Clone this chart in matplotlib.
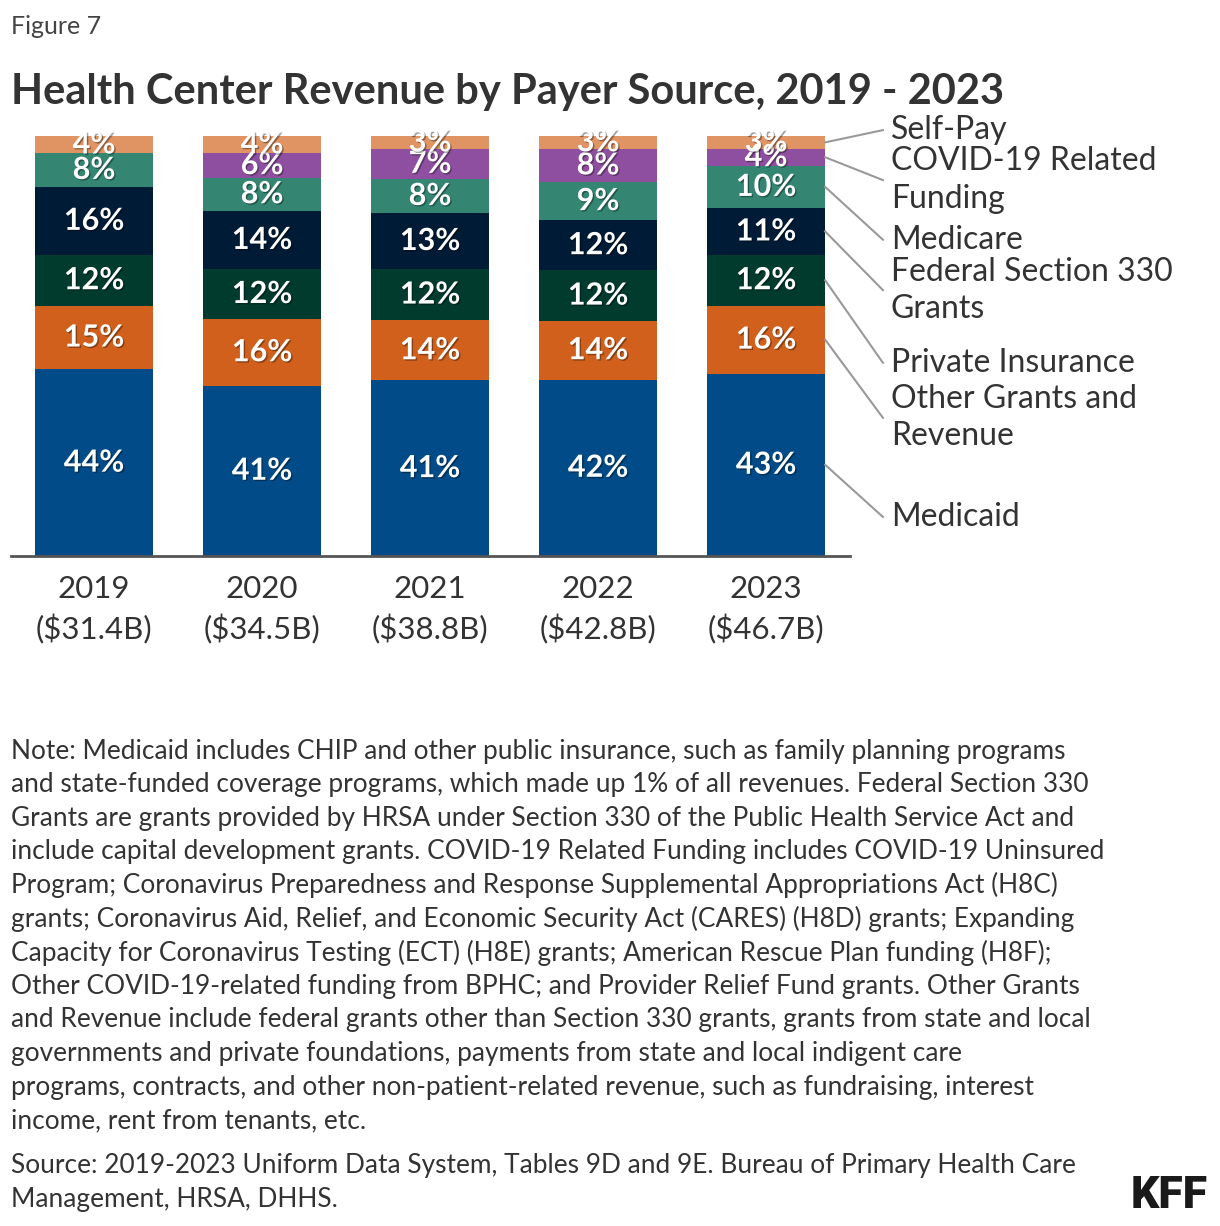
import matplotlib
matplotlib.use("Agg")
import matplotlib.pyplot as plt
import matplotlib.patheffects as pe
import numpy as np

plt.rcParams['font.family'] = ['Lato', 'DejaVu Sans']

# data
anios = ["2019", "2020", "2021", "2022", "2023"]
totales = ["$31.4B", "$34.5B", "$38.8B", "$42.8B", "$46.7B"]
medicaid = [44, 41, 41, 42, 43]
otros_fondos = [15, 16, 14, 14, 16]
seguro_privado = [12, 12, 12, 12, 12]
seccion_330 = [16, 14, 13, 12, 11]
medicare = [8, 8, 8, 9, 10]
covid = [0, 6, 7, 8, 4]
pago_propio = [4, 4, 3, 3, 3]

series = [medicaid, otros_fondos, seguro_privado, seccion_330, medicare, covid, pago_propio]
nombres = ["Medicaid", "Other Grants and\nRevenue", "Private Insurance",
           "Federal Section 330\nGrants", "Medicare", "COVID-19 Related\nFunding", "Self-Pay"]
colores = ["#004B88", "#D0601C", "#013B2D", "#001B35", "#348673", "#8F4FA0", "#E09363"]

# where the right-hand labels sit (y in % of the axis), spread so they don't collide
pos_etiquetas = [9.3, 32.9, 46.0, 63.3, 75.3, 89.5, 101.4]

W, H = 1220, 1226
fig = plt.figure(figsize=(W / 100, H / 100), dpi=100)
ax = fig.add_axes([11 / W, 1 - 556 / H, 839 / W, 420 / H])

x = np.arange(len(anios))
datos = np.array(series, dtype=float)
datos = datos / datos.sum(axis=0) * 100
base = np.zeros(len(anios))
sombra = [pe.withSimplePatchShadow(offset=(1, -1), shadow_rgbFace="black", alpha=0.35)]
for i, fila in enumerate(datos):
    ax.bar(x, fila, bottom=base, width=0.70, color=colores[i], linewidth=0)
    for j, v in enumerate(fila):
        if series[i][j] > 0:
            ax.text(x[j], base[j] + v / 2, "%d%%" % series[i][j], ha="center", va="center",
                    color="white", fontsize=22, fontweight="bold", path_effects=sombra)
    # leader line and label for the last bar
    medio = base[-1] + fila[-1] / 2
    ax.plot([x[-1] + 0.352, x[-1] + 0.696], [medio, pos_etiquetas[i]], color="#999999",
            lw=1.5, clip_on=False)
    ax.text(x[-1] + 0.744, pos_etiquetas[i], nombres[i], ha="left", va="center",
            fontsize=23, color="#333333", linespacing=1.3, clip_on=False)
    base += fila

ax.set_xlim(-0.494, 4.5)
ax.set_ylim(0, 100)
ax.set_yticks([])
ax.set_xticks(x)
ax.set_xticklabels(["%s\n(%s)" % (a, t) for a, t in zip(anios, totales)],
                   fontsize=22.5, color="#333333", linespacing=1.45)
ax.tick_params(axis="x", length=0, pad=14)
for lado in ["top", "right", "left"]:
    ax.spines[lado].set_visible(False)
ax.spines["bottom"].set_color("#555555")
ax.spines["bottom"].set_linewidth(2)

fig.text(11 / W, 1 - 27 / H, "Figure 7", fontsize=18, color="#444444", va="center")
fig.text(11 / W, 1 - 92 / H, "Health Center Revenue by Payer Source, 2019 - 2023",
         fontsize=30, fontweight="bold", color="#333333", va="center")

nota = [
    "Note: Medicaid includes CHIP and other public insurance, such as family planning programs",
    "and state-funded coverage programs, which made up 1% of all revenues. Federal Section 330",
    "Grants are grants provided by HRSA under Section 330 of the Public Health Service Act and",
    "include capital development grants. COVID-19 Related Funding includes COVID-19 Uninsured",
    "Program; Coronavirus Preparedness and Response Supplemental Appropriations Act (H8C)",
    "grants; Coronavirus Aid, Relief, and Economic Security Act (CARES) (H8D) grants; Expanding",
    "Capacity for Coronavirus Testing (ECT) (H8E) grants; American Rescue Plan funding (H8F);",
    "Other COVID-19-related funding from BPHC; and Provider Relief Fund grants. Other Grants",
    "and Revenue include federal grants other than Section 330 grants, grants from state and local",
    "governments and private foundations, payments from state and local indigent care",
    "programs, contracts, and other non-patient-related revenue, such as fundraising, interest",
    "income, rent from tenants, etc.",
]
for k, linea in enumerate(nota):
    fig.text(11 / W, 1 - (751 + k * 33.6) / H, linea, fontsize=18.9, color="#333333", va="center")

fuente = ["Source: 2019-2023 Uniform Data System, Tables 9D and 9E. Bureau of Primary Health Care",
          "Management, HRSA, DHHS."]
for k, linea in enumerate(fuente):
    fig.text(11 / W, 1 - (1165 + k * 34) / H, linea, fontsize=18.9, color="#333333", va="center")

fig.text(1208 / W, 1 - 1196 / H, "KFF", fontsize=32, fontweight="black", color="#1a1a1a",
         ha="right", va="center", family=["Roboto", "DejaVu Sans"])

fig.savefig("out.png", dpi=100)
